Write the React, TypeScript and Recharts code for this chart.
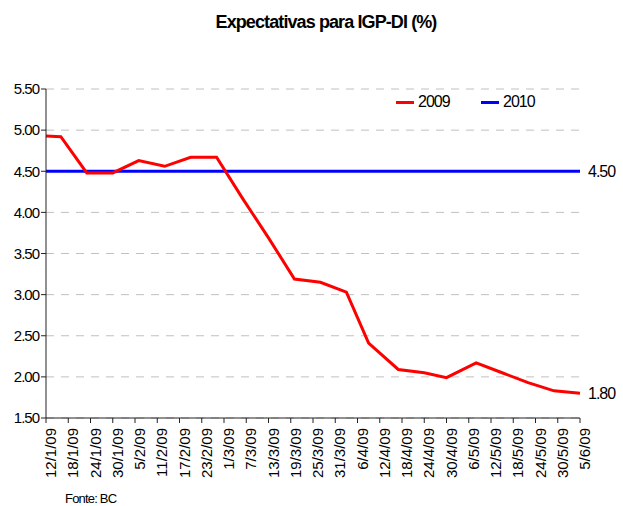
import React from "react";
import {
  LineChart,
  Line,
  XAxis,
  YAxis,
  CartesianGrid,
} from "recharts";

// survey dates (d/m/yy) and expectations for IGP-DI
const pointDates = [
  "12/1/09", "16/1/09", "23/1/09", "30/1/09", "6/2/09", "13/2/09",
  "20/2/09", "27/2/09", "6/3/09", "13/3/09", "20/3/09", "27/3/09",
  "3/4/09", "9/4/09", "17/4/09", "24/4/09", "30/4/09", "8/5/09",
  "15/5/09", "22/5/09", "29/5/09", "5/6/09",
];

const values2009 = [
  4.93, 4.92, 4.48, 4.48, 4.63, 4.56, 4.67, 4.67, 4.17, 3.69, 3.19,
  3.15, 3.03, 2.41, 2.09, 2.05, 1.99, 2.17, 2.05, 1.93, 1.83, 1.8,
];

const values2010 = [
  4.5, 4.5, 4.5, 4.5, 4.5, 4.5, 4.5, 4.5, 4.5, 4.5, 4.5,
  4.5, 4.5, 4.5, 4.5, 4.5, 4.5, 4.5, 4.5, 4.5, 4.5, 4.5,
];

const tickLabels = [
  "12/1/09", "18/1/09", "24/1/09", "30/1/09", "5/2/09", "11/2/09",
  "17/2/09", "23/2/09", "1/3/09", "7/3/09", "13/3/09", "19/3/09",
  "25/3/09", "31/3/09", "6/4/09", "12/4/09", "18/4/09", "24/4/09",
  "30/4/09", "6/5/09", "12/5/09", "18/5/09", "24/5/09", "30/5/09",
  "5/6/09",
];

const yTicks = [1.5, 2, 2.5, 3, 3.5, 4, 4.5, 5, 5.5];

const series = [
  { name: "2009", color: "#ff0000" },
  { name: "2010", color: "#0000ff" },
];

const FONT = '"Liberation Sans", Arial, sans-serif';

function toUtc(s: string) {
  const [d, m, y] = s.split("/").map(Number);
  return Date.UTC(2000 + y, m - 1, d);
}

const start = toUtc(tickLabels[0]);
const dayOf = (s: string) => Math.round((toUtc(s) - start) / 86400000);

const data = pointDates.map((d, i) => ({
  day: dayOf(d),
  v2009: values2009[i],
  v2010: values2010[i],
}));

const xTicks = tickLabels.map(dayOf);
const lastIndex = pointDates.length - 1;

function XTick(props: any) {
  const { x, y, index } = props;
  const ty = y + 3;
  return (
    <text
      x={x}
      y={ty}
      dy={10}
      transform={`rotate(-90 ${x} ${ty})`}
      textAnchor="end"
      fontFamily={FONT}
      fontSize={15}
      fill="#000"
    >
      {tickLabels[index]}
    </text>
  );
}

function endLabel(props: any) {
  const { x, y, index, value } = props;
  if (index !== lastIndex) return null;
  return (
    <text
      x={x + 8}
      y={y}
      dy={6}
      fontFamily={FONT}
      fontSize={16}
      letterSpacing={-1}
      fill="#000"
    >
      {Number(value).toFixed(2)}
    </text>
  );
}

// legend drawn on top of the plot, upper right
function ChartLegend() {
  return (
    <div
      style={{
        position: "absolute",
        left: 396,
        top: 93,
        display: "flex",
        gap: 31,
        fontFamily: FONT,
      }}
    >
      {series.map((it) => (
        <div
          key={it.name}
          style={{ display: "flex", alignItems: "center", width: 54 }}
        >
          <span
            style={{
              display: "inline-block",
              width: 18,
              height: 3,
              background: it.color,
              marginRight: 4,
            }}
          />
          <span style={{ fontSize: 16, letterSpacing: -1, color: "#000" }}>
            {it.name}
          </span>
        </div>
      ))}
    </div>
  );
}

export default function App() {
  return (
    <div
      style={{
        position: "absolute",
        left: 0,
        top: 0,
        width: 623,
        height: 506,
        background: "#fff",
        overflow: "hidden",
      }}
    >
      <LineChart
        width={623}
        height={506}
        data={data}
        margin={{ top: 89, right: 43, bottom: 0, left: 0 }}
      >
        <CartesianGrid
          vertical={false}
          stroke="#c0c0c0"
          strokeDasharray="8 7"
        />
        <XAxis
          dataKey="day"
          type="number"
          domain={[0, 144]}
          ticks={xTicks}
          interval={0}
          height={88}
          tickSize={5}
          axisLine={{ stroke: "#222" }}
          tickLine={{ stroke: "#222" }}
          tick={<XTick />}
        />
        <YAxis
          type="number"
          domain={[1.5, 5.5]}
          ticks={yTicks}
          interval={0}
          width={46}
          tickSize={5}
          axisLine={{ stroke: "#222" }}
          tickLine={{ stroke: "#222" }}
          tickFormatter={(v: number) => v.toFixed(2)}
          tick={{
            fill: "#000",
            fontSize: 15,
            fontFamily: FONT,
            letterSpacing: -1,
          }}
        />
        <Line
          type="linear"
          dataKey="v2010"
          name="2010"
          stroke="#0000ff"
          strokeWidth={3}
          dot={false}
          isAnimationActive={false}
          label={endLabel}
        />
        <Line
          type="linear"
          dataKey="v2009"
          name="2009"
          stroke="#ff0000"
          strokeWidth={3}
          dot={false}
          isAnimationActive={false}
          label={endLabel}
        />
      </LineChart>
      <ChartLegend />
      <svg
        width={623}
        height={506}
        style={{ position: "absolute", left: 0, top: 0, pointerEvents: "none" }}
      >
        <text
          x={326}
          y={28}
          textAnchor="middle"
          fontFamily={FONT}
          fontSize={18}
          fontWeight="bold"
          letterSpacing={-0.9}
          fill="#000"
        >
          Expectativas para IGP-DI (%)
        </text>
        <text
          x={65}
          y={503}
          fontFamily={FONT}
          fontSize={13}
          letterSpacing={-0.8}
          fill="#000"
        >
          Fonte: BC
        </text>
      </svg>
    </div>
  );
}
